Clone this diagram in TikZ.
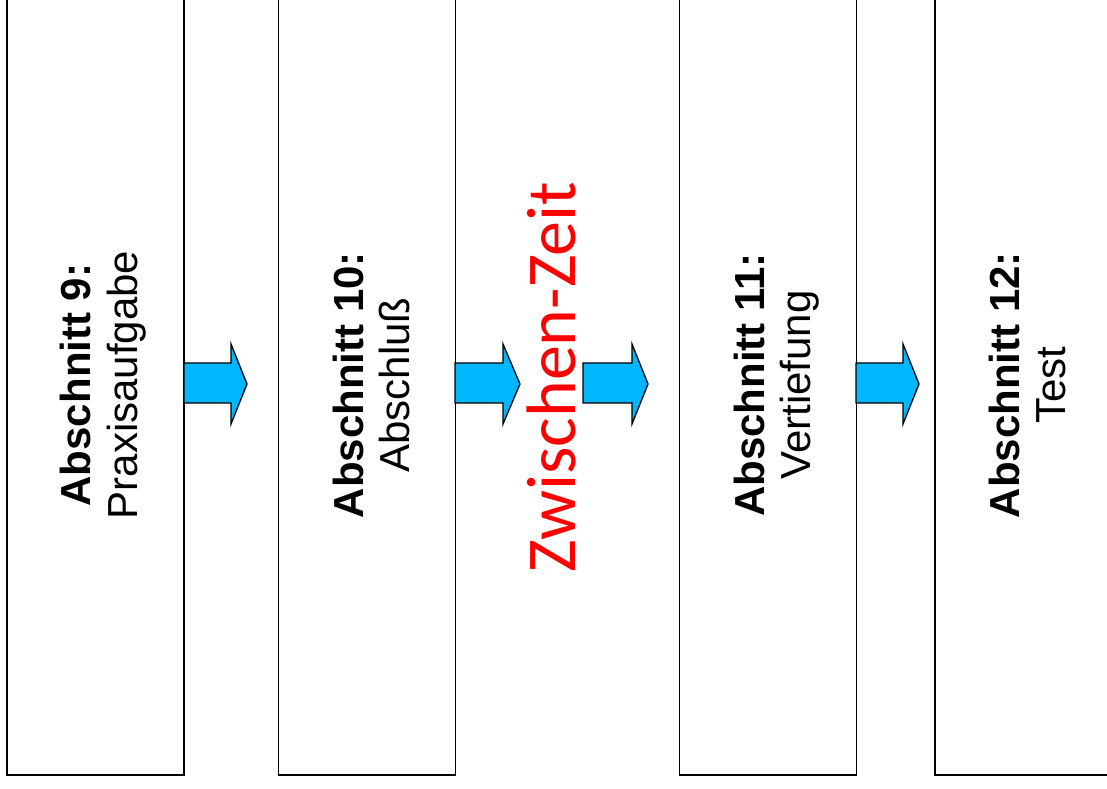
\documentclass[tikz,border=0pt]{standalone}
\usepackage{fontspec}
\setmainfont{Liberation Sans}
\newfontfamily\zzfont{Carlito}
\begin{document}
\begin{tikzpicture}[x=1pt,y=-1pt,
  stage/.style={draw=black,line width=1.7pt,fill=white,rectangle,
    minimum width=177pt,minimum height=820pt,inner sep=0pt},
  headline/.style={rotate=90,anchor=base,inner sep=0pt,
    font=\fontsize{42}{47}\selectfont\bfseries},
  subline/.style={rotate=90,anchor=base,inner sep=0pt,
    font=\fontsize{42}{47}\selectfont},
  blockarrow/.style={draw=black,line width=1.3pt,line join=miter,
    fill={rgb,255:red,0;green,183;blue,255}},
  pause/.style={rotate=90,anchor=base,inner sep=0pt,text=red,
    font=\zzfont\fontsize{70}{80}\selectfont}]
\useasboundingbox (0,0) rectangle (1107,788);
\clip (0,0) rectangle (1107,788);
\fill[white] (0,0) rectangle (1107,788);

% four stage boxes, running off the top edge
\node[stage] (b9)  at (95.5,365)  {};
\node[stage] (b10) at (367,365)   {};
\node[stage] (b11) at (768,365)   {};
\node[stage] (b12) at (1023.5,365) {};

% block arrows between the stages
\newcommand\flowarrow[3]{%
  \draw[blockarrow] (#1,363) -- (#2,363) -- (#2,344) -- (#3,384)
    -- (#2,424) -- (#2,403) -- (#1,403) -- cycle;}
\flowarrow{184}{231}{247}
\flowarrow{455}{503}{520}
\flowarrow{583}{632}{648}
\flowarrow{856}{903}{919}

% stage captions
\node[headline] (h9)  at (90,385)   {Abschnitt 9:\hspace{0.28em}};
\node[subline]  (s9)  at (137,385)  {Praxisaufgabe};
\node[headline] (h10) at (363,385)  {Abschnitt 10:};
\node[subline]  (s10) at (409,385)  {Abschluß};
\node[headline] (h11) at (764,385)  {Abschnitt 11:};
\node[subline]  (s11) at (810,385)  {Vertiefung};
\node[headline] (h12) at (1019,385) {Abschnitt 12:};
\node[subline]  (s12) at (1065,385) {Test};

% break between the two halves
\node[pause] (zz) at (575,377) {Zwischen-Zeit};
\end{tikzpicture}
\end{document}
